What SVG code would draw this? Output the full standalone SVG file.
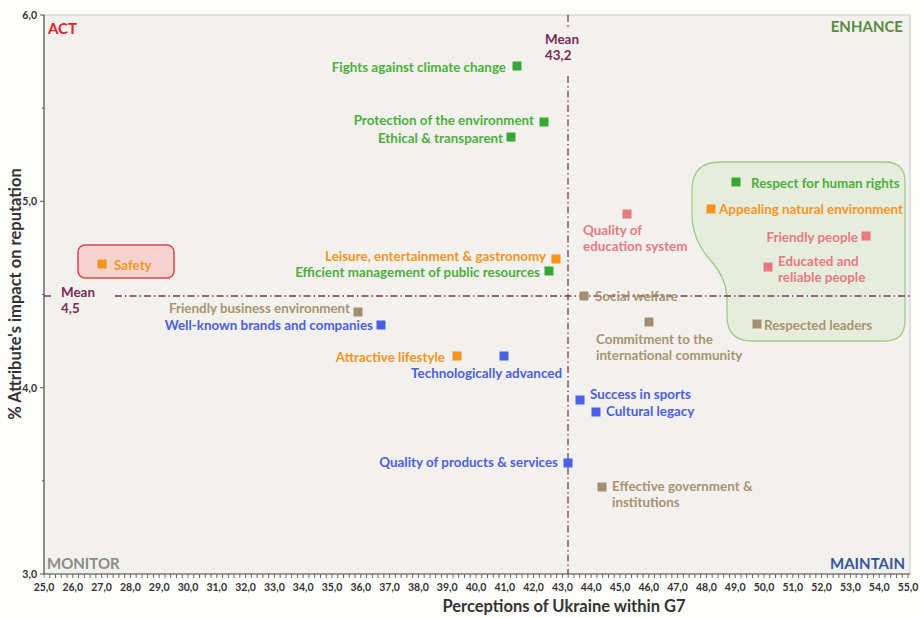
<svg xmlns="http://www.w3.org/2000/svg" width="921" height="618" viewBox="0 0 921 618">
<style>
text{font-family:Lato,"Open Sans","Liberation Sans",sans-serif;font-weight:bold}
.lb{font-size:13.4px}
.g{fill:#4caf3c}.o{fill:#f7941d}.p{fill:#e8797f}.t{fill:#a8946f}.b{fill:#4a5ee6}
.mg{fill:#38a834}.mo{fill:#f7941d}.mp{fill:#e8797f}.mt{fill:#a38f6f}.mb{fill:#4a5ee6}
.tick{font-size:10.5px;fill:#333;text-anchor:middle}
.ytick{font-size:10.5px;fill:#333;text-anchor:end}
.mean{stroke:#7a3a5c;stroke-width:1.3;stroke-dasharray:7 3 1.5 3;fill:none}
.ml{font-size:13.4px;fill:#7a2a55}
.q{font-size:15px}
</style>
<defs>
<pattern id="xt" patternUnits="userSpaceOnUse" x="43.5" y="0" width="5.76" height="10">
<rect x="0" y="0" width="1" height="10" fill="#666"/>
</pattern>
</defs>
<rect width="921" height="618" fill="#fdfdfb"/>
<g id="plot">
<rect x="44" y="15" width="866" height="559" fill="#f3f1ee" stroke="#c8c8c8" stroke-width="1"/>
<line x1="44" y1="15" x2="44" y2="574" stroke="#555" stroke-width="1.2"/>
<line x1="44" y1="574" x2="910" y2="574" stroke="#555" stroke-width="1.2"/>
<rect x="43.5" y="574" width="866" height="4" fill="url(#xt)"/>
<path d="M40 15H44M40 201.3H44M40 387.7H44M40 574H44M42 108.2H44M42 294.5H44M42 480.8H44" stroke="#555" stroke-width="1"/>
<text class="ytick" x="37" y="19">6,0</text>
<text class="ytick" x="37" y="205">5,0</text>
<text class="ytick" x="37" y="392">4,0</text>
<text class="ytick" x="37" y="578">3,0</text>
</g>
<g id="xlabels">
<text class="tick" x="44" y="591">25,0</text><text class="tick" x="72.8" y="591">26,0</text><text class="tick" x="101.6" y="591">27,0</text><text class="tick" x="130.4" y="591">28,0</text><text class="tick" x="159.2" y="591">29,0</text><text class="tick" x="188" y="591">30,0</text><text class="tick" x="216.8" y="591">31,0</text><text class="tick" x="245.6" y="591">32,0</text><text class="tick" x="274.4" y="591">33,0</text><text class="tick" x="303.2" y="591">34,0</text><text class="tick" x="332" y="591">35,0</text><text class="tick" x="360.8" y="591">36,0</text><text class="tick" x="389.6" y="591">37,0</text><text class="tick" x="418.4" y="591">38,0</text><text class="tick" x="447.2" y="591">39,0</text><text class="tick" x="476" y="591">40,0</text><text class="tick" x="504.8" y="591">41,0</text><text class="tick" x="533.6" y="591">42,0</text><text class="tick" x="562.4" y="591">43,0</text><text class="tick" x="591.2" y="591">44,0</text><text class="tick" x="620" y="591">45,0</text><text class="tick" x="648.8" y="591">46,0</text><text class="tick" x="677.6" y="591">47,0</text><text class="tick" x="706.4" y="591">48,0</text><text class="tick" x="735.2" y="591">49,0</text><text class="tick" x="764" y="591">50,0</text><text class="tick" x="792.8" y="591">51,0</text><text class="tick" x="821.6" y="591">52,0</text><text class="tick" x="850.4" y="591">53,0</text><text class="tick" x="879.2" y="591">54,0</text><text class="tick" x="908" y="591">55,0</text>
</g>
<g id="titles">
<text x="564" y="612" font-size="16.5" fill="#333" text-anchor="middle">Perceptions of Ukraine within G7</text>
<text transform="translate(21,294) rotate(-90)" font-size="16.5" fill="#333" text-anchor="middle">% Attribute's impact on reputation</text>
</g>
<g id="quadrants">
<text class="q" x="48" y="34" fill="#e8202a">ACT</text>
<text class="q" x="903" y="32" fill="#5a8a3c" text-anchor="end">ENHANCE</text>
<text class="q" x="47" y="569" fill="#8c8c8c">MONITOR</text>
<text class="q" x="905" y="569" fill="#3355a0" text-anchor="end">MAINTAIN</text>
</g>
<g id="highlights">
<path d="M720 162H885Q905 162 905 182V320Q905 341 885 341H752Q727 341 727 316V300Q727 280 712 262Q692 240 692 215V190Q692 162 720 162Z" fill="#e4ecd8" fill-opacity="0.8" stroke="#9ccc8a" stroke-width="1.3"/>
<rect x="78" y="245" width="96" height="33" rx="7" fill="#f7d3cf" stroke="#e0454f" stroke-width="1.5"/>
</g>
<g id="means">
<path class="mean" d="M568 15V27M568 76V574"/>
<path class="mean" d="M44 296H51M115 296H910"/>
<text class="ml" x="545" y="44">Mean</text>
<text class="ml" x="545" y="60">43,2</text>
<text class="ml" x="61" y="297">Mean</text>
<text class="ml" x="61" y="313">4,5</text>
</g>
<g id="n-climate"><rect class="mg" x="512.5" y="61.5" width="9" height="9"/><text class="lb g" x="506" y="72" text-anchor="end">Fights against climate change</text></g>
<g id="n-protection"><rect class="mg" x="539.5" y="117.5" width="9" height="9"/><text class="lb g" x="534" y="125" text-anchor="end">Protection of the environment</text></g>
<g id="n-ethical"><rect class="mg" x="506.5" y="132.5" width="9" height="9"/><text class="lb g" x="503" y="143" text-anchor="end">Ethical &amp; transparent</text></g>
<g id="n-efficient"><rect class="mg" x="544.5" y="266.5" width="9" height="9"/><text class="lb g" x="540" y="277" text-anchor="end">Efficient management of public resources</text></g>
<g id="n-human"><rect class="mg" x="731.5" y="177.5" width="9" height="9"/><text class="lb g" x="751" y="188">Respect for human rights</text></g>
<g id="n-safety"><rect class="mo" x="97.5" y="259.5" width="9" height="9"/><text class="lb o" x="114" y="270">Safety</text></g>
<g id="n-leisure"><rect class="mo" x="551.5" y="254.5" width="9" height="9"/><text class="lb o" x="546" y="261" text-anchor="end">Leisure, entertainment &amp; gastronomy</text></g>
<g id="n-lifestyle"><rect class="mo" x="452.5" y="351.5" width="9" height="9"/><text class="lb o" x="445" y="362" text-anchor="end">Attractive lifestyle</text></g>
<g id="n-natural"><rect class="mo" x="706.5" y="204.5" width="9" height="9"/><text class="lb o" x="719" y="214">Appealing natural environment</text></g>
<g id="n-education"><rect class="mp" x="622.5" y="209.5" width="9" height="9"/><text class="lb p" x="583" y="235">Quality of</text><text class="lb p" x="583" y="251">education system</text></g>
<g id="n-friendly"><rect class="mp" x="861.5" y="231.5" width="9" height="9"/><text class="lb p" x="858" y="242" text-anchor="end">Friendly people</text></g>
<g id="n-educated"><rect class="mp" x="763.5" y="262.5" width="9" height="9"/><text class="lb p" x="778" y="266">Educated and</text><text class="lb p" x="778" y="282">reliable people</text></g>
<g id="n-business"><rect class="mt" x="353.5" y="307.5" width="9" height="9"/><text class="lb t" x="350" y="313" text-anchor="end">Friendly business environment</text></g>
<g id="n-welfare"><rect class="mt" x="579.5" y="291.5" width="9" height="9"/><text class="lb t" x="595" y="301">Social welfare</text></g>
<g id="n-commitment"><rect class="mt" x="644.5" y="317.5" width="9" height="9"/><text class="lb t" x="596" y="344">Commitment to the</text><text class="lb t" x="596" y="360">international community</text></g>
<g id="n-leaders"><rect class="mt" x="752.5" y="319.5" width="9" height="9"/><text class="lb t" x="764" y="330">Respected leaders</text></g>
<g id="n-government"><rect class="mt" x="597.5" y="482.5" width="9" height="9"/><text class="lb t" x="612" y="491">Effective government &amp;</text><text class="lb t" x="612" y="507">institutions</text></g>
<g id="n-brands"><rect class="mb" x="376.5" y="320.5" width="9" height="9"/><text class="lb b" x="373" y="330" text-anchor="end">Well-known brands and companies</text></g>
<g id="n-tech"><rect class="mb" x="499.5" y="351.5" width="9" height="9"/><text class="lb b" x="562" y="378" text-anchor="end">Technologically advanced</text></g>
<g id="n-sports"><rect class="mb" x="575.5" y="395.5" width="9" height="9"/><text class="lb b" x="590" y="399">Success in sports</text></g>
<g id="n-cultural"><rect class="mb" x="591.5" y="407.5" width="9" height="9"/><text class="lb b" x="606" y="416">Cultural legacy</text></g>
<g id="n-products"><rect class="mb" x="563.5" y="458.5" width="9" height="9"/><text class="lb b" x="558" y="467" text-anchor="end">Quality of products &amp; services</text></g>
</svg>
